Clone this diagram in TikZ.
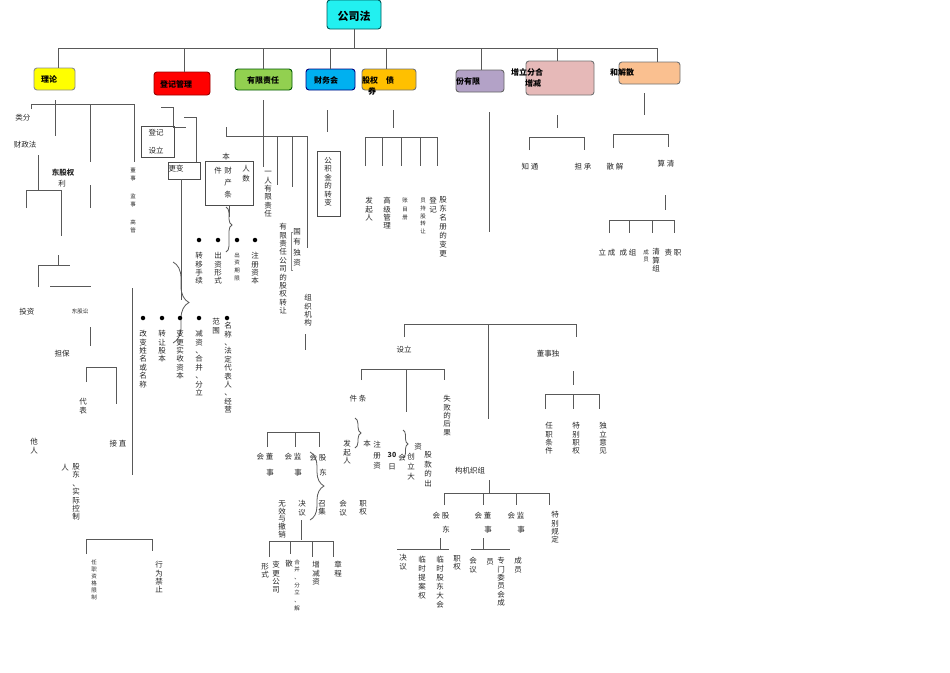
\documentclass[tikz,border=0pt]{standalone}
\usepackage{fontspec}
\setmainfont{Noto Sans CJK SC}
\usetikzlibrary{decorations.pathreplacing}

\definecolor{fcyan}{HTML}{22F0F0}
\definecolor{fyellow}{HTML}{FFFF00}
\definecolor{fred}{HTML}{FF0000}
\definecolor{fgreen}{HTML}{92D050}
\definecolor{fblue}{HTML}{00B0F0}
\definecolor{forange}{HTML}{FFC000}
\definecolor{fpurple}{HTML}{B3A2C7}
\definecolor{fpink}{HTML}{E6B9B8}
\definecolor{fpeach}{HTML}{FAC090}
\colorlet{lnc}{black!65}

% vertical text: one character per line
\makeatletter
\newcommand\vt[2][1.12em]{\vbox{\baselineskip=#1\relax\@tfor\vt@c:=#2\do{\hbox to 1em{\hss\vt@c\hss}}}}
\makeatother

\begin{document}
\begin{tikzpicture}[x=1pt, y=-1pt, line width=0.8pt,
  topbox/.style={draw=#1, rounded corners=3pt, line width=0.9pt, inner sep=0pt},
  boxlbl/.style={inner sep=0pt, font=\bfseries\fontsize{8}{9}\selectfont},
  lbl/.style={inner sep=0pt, text=black!85, font=\fontsize{7.5}{9}\selectfont},
  vlbl/.style={lbl, anchor=north},
  tinylbl/.style={lbl, font=\fontsize{5.5}{6.5}\selectfont},
  vtiny/.style={tinylbl, anchor=north},
  thinbox/.style={draw=black!70, line width=0.8pt, inner sep=0pt},
  dotnode/.style={circle, fill=black, inner sep=0pt, minimum size=4.5pt},
  brc/.style={lnc, decorate, decoration={brace, amplitude=#1}}]

% canvas
\useasboundingbox (0,0) rectangle (950,672);
\fill[white] (0,0) rectangle (950,672);

% top boxes
\node[topbox=teal!70!black, fill=fcyan, minimum width=54pt, minimum height=29pt] (gsf) at (354,14.5) {};
\node[boxlbl, font=\bfseries\fontsize{11}{12}\selectfont] (gsft) at (354,16) {公司法};
\node[topbox=black!45, fill=fyellow, minimum width=41pt, minimum height=22pt] (lilun) at (54.5,79) {};
\node[boxlbl] (lilunt) at (49,79) {理论};
\node[topbox=red!60!black, fill=fred, minimum width=56pt, minimum height=23pt] (djgl) at (182,83.5) {};
\node[boxlbl] (djglt) at (176,84) {登记管理};
\node[topbox=green!35!black, fill=fgreen, minimum width=57pt, minimum height=21pt] (yxzr) at (263.5,79.5) {};
\node[boxlbl] (yxzrt) at (263,80) {有限责任};
\node[topbox=blue!50!black, fill=fblue, minimum width=49pt, minimum height=21pt] (cwk) at (330.5,79.5) {};
\node[boxlbl] (cwkt) at (326,80) {财务会};
\node[topbox=black!55, fill=forange, minimum width=54pt, minimum height=21pt] (gfzq) at (389,79.5) {};
\node[boxlbl] (gfzqt) at (378,80) {股权\quad 债};
\node[boxlbl] (gfzqq) at (372,91) {券};
\node[topbox=black!60, fill=fpurple, minimum width=48pt, minimum height=22pt] (gfyx) at (480,81) {};
\node[boxlbl] (gfyxt) at (468,81) {份有限};
\node[topbox=black!55, fill=fpink, minimum width=68pt, minimum height=34pt] (hbfl) at (560,78) {};
\node[boxlbl] (hbflt) at (527,72) {增立分合};
\node[boxlbl] (hbflz) at (533,83) {增减};
\node[topbox=black!55, fill=fpeach, minimum width=61pt, minimum height=22pt] (hjjs) at (649.5,73) {};
\node[boxlbl] (hjjst) at (622,72) {和解散};

% top bus
\draw[lnc] (gsf.south) -- (gsf.south |- 0,48);
\draw[lnc] (58,48) -- (657,48);
\foreach \b/\x in {lilun/58, djgl/184, yxzr/263, cwk/330, gfzq/386, gfyx/481, hbfl/557, hjjs/657}
  \draw[lnc] (\x,48) -- (\x,0 |- \b.north);

% 理论
\draw[lnc] (31,109) |- (134,104) -- (134,162);
\draw[lnc] (55,100) -- (55,136);
\draw[lnc] (90,104) -- (90,162);
\node[lbl] (leifen) at (23,118) {类分};
\node[lbl] (caizheng) at (25,145) {财政法};
\draw[lnc] (38,155) -- (38,190);
\draw[lnc] (26,208) |- (61,190) -- (61,236);
\node[lbl, font=\bfseries\fontsize{7.5}{9}\selectfont] (gdql) at (63,173) {东股权};
\node[lbl] (gdqlb) at (62,184) {利};
\draw[lnc] (90,185) -- (90,208);
\draw[lnc] (38,287) |- (70,265);
\draw[lnc] (58,255) -- (58,265);
\draw[lnc] (50,286) -- (91,286);
\node[lbl] (touzi) at (27,312) {投资};
\node[tinylbl] (gdss) at (80,311) {东股讼};
\draw[lnc] (90,327) -- (90,346);
\node[lbl] (danbao) at (62,354) {担保};
\draw[lnc] (86,382) |- (116,367) -- (116,404);
\node[vlbl] (daibiao) at (83,398) {\vt{代表}};
\node[vlbl] (taren) at (34,438) {\vt{他人}};
\node[lbl] (zhijie) at (118,444) {接\ 直};
\node[lbl] (ren) at (65,468) {人};
\node[vlbl] (gdsk) at (76,463) {\vt{股东、实际控制}};
\draw[lnc] (132,288) -- (132,475);
\node[vtiny] (dongshi) at (133,167) {\vt[1.6em]{董事}};
\node[vtiny] (jianshi) at (133,193) {\vt[1.6em]{监事}};
\node[vtiny] (gaoguan) at (133,219) {\vt[1.6em]{高管}};
\draw[lnc] (86,554) |- (152,539) -- (152,551);
\node[vtiny] (rzzg) at (94,559) {\vt[1.3em]{任职资格限制}};
\node[vlbl] (xwjz) at (159,561) {\vt{行为禁止}};

% 登记管理
\draw[lnc] (161,107) -| (173,127) -- (186,127);
\node[thinbox, minimum width=33pt, minimum height=31pt] (djsl) at (157.5,141.5) {};
\node[lbl] (djslt) at (156,133) {登记};
\node[lbl] (djslb) at (156,151) {设立};
\draw[lnc] (184,117) -| (196,162);
\node[thinbox, minimum width=32pt, minimum height=17pt] (bg) at (184,170.5) {};
\node[lbl] (bgt) at (176,169) {更变};
\draw[lnc] (181,179) -- (181,300);
\draw[brc=16pt] (173,262) -- (173,343);

% 财产条件 box
\node[thinbox, minimum width=48pt, minimum height=44pt] (ccbox) at (229,183) {};
\node[lbl] (cben) at (226,157) {本};
\node[lbl] (cjian) at (218,171) {件};
\node[vlbl] (ccai) at (228,167) {\vt[1.6em]{财产条}};
\node[vlbl] (crs) at (246,165) {\vt[1.3em]{人数}};
\draw[lnc] (229,205) -- (229,217);
\draw[brc=6pt, decoration={aspect=0.4}] (226,207) -- (226,252);

% bullets, row one
\foreach \x/\t in {199/转移手续, 218/出资形式, 255/注册资本} {
  \node[dotnode] (d1-\x) at (\x,240) {};
  \node[vlbl] (t1-\x) at (\x,252) {\expandafter\vt\expandafter{\t}};
}
\node[dotnode] (d1-237) at (237,240) {};
\node[vtiny] (t1-237) at (237,252) {\vt[1.4em]{出资期限}};

% bullets, row two
\foreach \x/\t in {143/改变姓名或名称, 162/转让股本, 180/变更实收资本, 199/减资、合并、分立} {
  \node[dotnode] (d2-\x) at (\x,318) {};
  \node[vlbl] (t2-\x) at (\x,330) {\expandafter\vt\expandafter{\t}};
}
\node[dotnode] (d2-227) at (227,318) {};
\node[vlbl] (t2-227) at (228,322) {\vt{名称、法定代表人、经营}};
\node[vlbl] (fanwei) at (216,318) {\vt{范围}};

% 有限责任
\draw[lnc] (263,100) -- (263,167);
\draw[lnc] (226,127) |- (307,136) -- (307,248);
\draw[lnc] (277,136) -- (277,185);
\draw[lnc] (292,136) -- (292,187);
\node[vlbl] (yrzr) at (268,171) {\vt{一人有限责任}};
\node[vlbl] (gqzr) at (283,223) {\vt{有限责任公司的股权转让}};
\node[vlbl] (gyds) at (297,228) {\vt[1.4em]{国有独资}};
\draw[black!45, line width=0.5pt] (293,232) -- (291,232) -- (291,270) -- (293,270);
\node[vlbl] (zzjg1) at (308,294) {\vt{组织机构}};
\draw[lnc] (305,334) -- (305,350);

% 财务会
\draw[lnc] (327,110) -- (327,132);
\node[thinbox, minimum width=23pt, minimum height=65pt] (gjj) at (328.5,183.5) {};
\node[vlbl] (gjjt) at (328,157) {\vt{公积金的转变}};

% 股权 债券
\draw[lnc] (393,110) -- (393,128);
\draw[lnc] (365,166) |- (437,137) -- (437,166);
\foreach \x in {382,401,420} \draw[lnc] (\x,137) -- (\x,166);
\node[vlbl] (fqr) at (369,197) {\vt{发起人}};
\node[vlbl] (gjgl) at (387,197) {\vt{高级管理}};
\node[vtiny] (zmc) at (405,198) {\vt[1.5em]{账目册}};
\node[vtiny] (cgzr) at (423,198) {\vt[1.4em]{员持股转让}};
\node[vlbl] (dengji) at (433,197) {\vt{登记}};
\node[vlbl] (gdmc) at (443,196) {\vt[1.2em]{股东名册的变更}};

% 股份有限
\draw[lnc] (489,112) -- (489,232);
\draw[lnc] (404,337) |- (576,324) -- (576,337);
\draw[lnc] (488,324) -- (488,419);
\node[lbl] (sheli) at (404,350) {设立};
\node[lbl] (dszd) at (548,354) {董事独};
\draw[lnc] (573,371) -- (573,385);
\draw[lnc] (545,409) |- (599,394) -- (599,409);
\draw[lnc] (573,394) -- (573,409);
\node[vlbl] (rztj) at (549,422) {\vt{任职条件}};
\node[vlbl] (tbzq) at (576,422) {\vt{特别职权}};
\node[vlbl] (dlyj) at (603,422) {\vt{独立意见}};

% 设立
\draw[lnc] (361,380) |- (444,369) -- (444,380);
\draw[lnc] (406,369) -- (406,412);
\node[lbl] (jtiao) at (358,399) {件\ 条};
\draw[brc=6pt] (355,418) -- (355,448);
\node[vlbl] (fqr2) at (347,440) {\vt{发起人}};
\node[lbl] (zben) at (367,444) {本};
\node[vlbl] (zczb) at (377,441) {\vt[1.4em]{注册资}};
\node[lbl, font=\bfseries\fontsize{7}{8}\selectfont] (d30) at (392,455) {30};
\node[lbl] (ri) at (392,467) {日};
\node[vlbl] (sbhg) at (447,395) {\vt{失败的后果}};
\draw[brc=5pt] (403,430) -- (403,458);
\node[lbl] (hui1) at (402,458) {会};
\node[vlbl] (cld) at (411,453) {\vt[1.3em]{创立大}};
\node[lbl] (zi1) at (418,447) {资};
\node[vlbl] (gkc) at (428,451) {\vt[1.3em]{股款的出}};

% 组织机构
\node[lbl] (zzjg) at (470,471) {构机织组};
\draw[lnc] (489,480) -- (489,493);
\draw[lnc] (444,505) |- (549,493) -- (549,505);
\draw[lnc] (483,493) -- (483,505);
\draw[lnc] (516,493) -- (516,505);
\node[lbl] (gdh) at (441,516) {会\ 股};
\node[lbl] (gdh-b) at (446,530) {东};
\node[lbl] (dsh) at (483,516) {会\ 董};
\node[lbl] (dsh-b) at (488,530) {事};
\node[lbl] (jsh) at (516,516) {会\ 监};
\node[lbl] (jsh-b) at (521,530) {事};
\node[vlbl] (tbgd) at (555,511) {\vt{特别规定}};
\draw[lnc] (440,538) -- (440,549);
\draw[lnc] (397,549) -- (449,549);
\node[vlbl] (jueyi1) at (403,554) {\vt{决议}};
\node[vlbl] (lsta) at (422,556) {\vt[1.2em]{临时提案权}};
\node[vlbl] (lsgd) at (440,556) {\vt[1.2em]{临时股东大会}};
\node[vlbl] (zhiquan1) at (457,555) {\vt{职权}};
\draw[lnc] (483,538) -- (483,549);
\draw[lnc] (471,549) -- (510,549);
\node[vlbl] (huiyi1) at (473,557) {\vt{会议}};
\node[lbl] (yuan) at (490,562) {员};
\node[vlbl] (zmwy) at (501,557) {\vt{专门委员会成}};
\node[vlbl] (chengyuan) at (518,557) {\vt{成员}};

% 会议
\draw[lnc] (267,447) |- (319,432) -- (319,447);
\draw[lnc] (295,432) -- (295,447);
\node[lbl] (dsh2) at (265,457) {会\ 董};
\node[lbl] (dsh2b) at (270,473) {事};
\node[lbl] (jsh2) at (293,457) {会\ 监};
\node[lbl] (jsh2b) at (298,473) {事};
\node[lbl] (gdh2) at (318,458) {会\ 股};
\node[lbl] (gdh2b) at (323,473) {东};
\draw[brc=14pt] (310,452) -- (310,520);
\node[vlbl] (wxcx) at (282,500) {\vt[1.05em]{无效与撤销}};
\node[vlbl] (jueyi2) at (302,500) {\vt{决议}};
\draw[lnc] (301,520) -- (301,540);
\node[vlbl] (zhaoji) at (322,500) {\vt{召集}};
\node[vlbl] (huiyi2) at (343,500) {\vt{会议}};
\node[vlbl] (zhiquan2) at (363,500) {\vt{职权}};
\draw[lnc] (269,557) |- (333,541) -- (333,557);
\draw[lnc] (290,541) -- (290,554);
\draw[lnc] (312,541) -- (312,557);
\node[vlbl] (xingshi) at (265,563) {\vt{形式}};
\node[vlbl] (bggs) at (276,561) {\vt{变更公司}};
\node[lbl] (san) at (289,564) {散};
\node[vtiny] (hbfj) at (297,559) {\vt[1.4em]{合并、分立、解}};
\node[vlbl] (zjz) at (316,561) {\vt{增减资}};
\node[vlbl] (zhangcheng) at (338,561) {\vt{章程}};

% 合并 分立
\draw[lnc] (557,115) -- (557,128);
\draw[lnc] (529,150) |- (584,137) -- (584,150);
\node[lbl] (tongzhi) at (530,167) {知\ 通};
\node[lbl] (chengdan) at (583,167) {担\ 承};

% 解散 清算
\draw[lnc] (644,93) -- (644,115);
\draw[lnc] (613,148) |- (668,134) -- (668,147);
\node[lbl] (jiesan) at (615,167) {散\ 解};
\node[lbl] (qingsuan) at (666,164) {算\ 清};
\draw[lnc] (665,195) -- (665,210);
\draw[lnc] (609,233) |- (674,220) -- (674,233);
\draw[lnc] (629,220) -- (629,233);
\draw[lnc] (652,220) -- (652,233);
\node[lbl] (licheng) at (607,253) {立\ 成};
\node[lbl] (chengzu) at (628,253) {成\ 组};
\node[vtiny] (chengy) at (646,249) {\vt[1.3em]{成员}};
\node[vlbl] (qsz) at (656,248) {\vt{清算组}};
\node[lbl] (zhize) at (673,253) {责\ 职};

\end{tikzpicture}
\end{document}
